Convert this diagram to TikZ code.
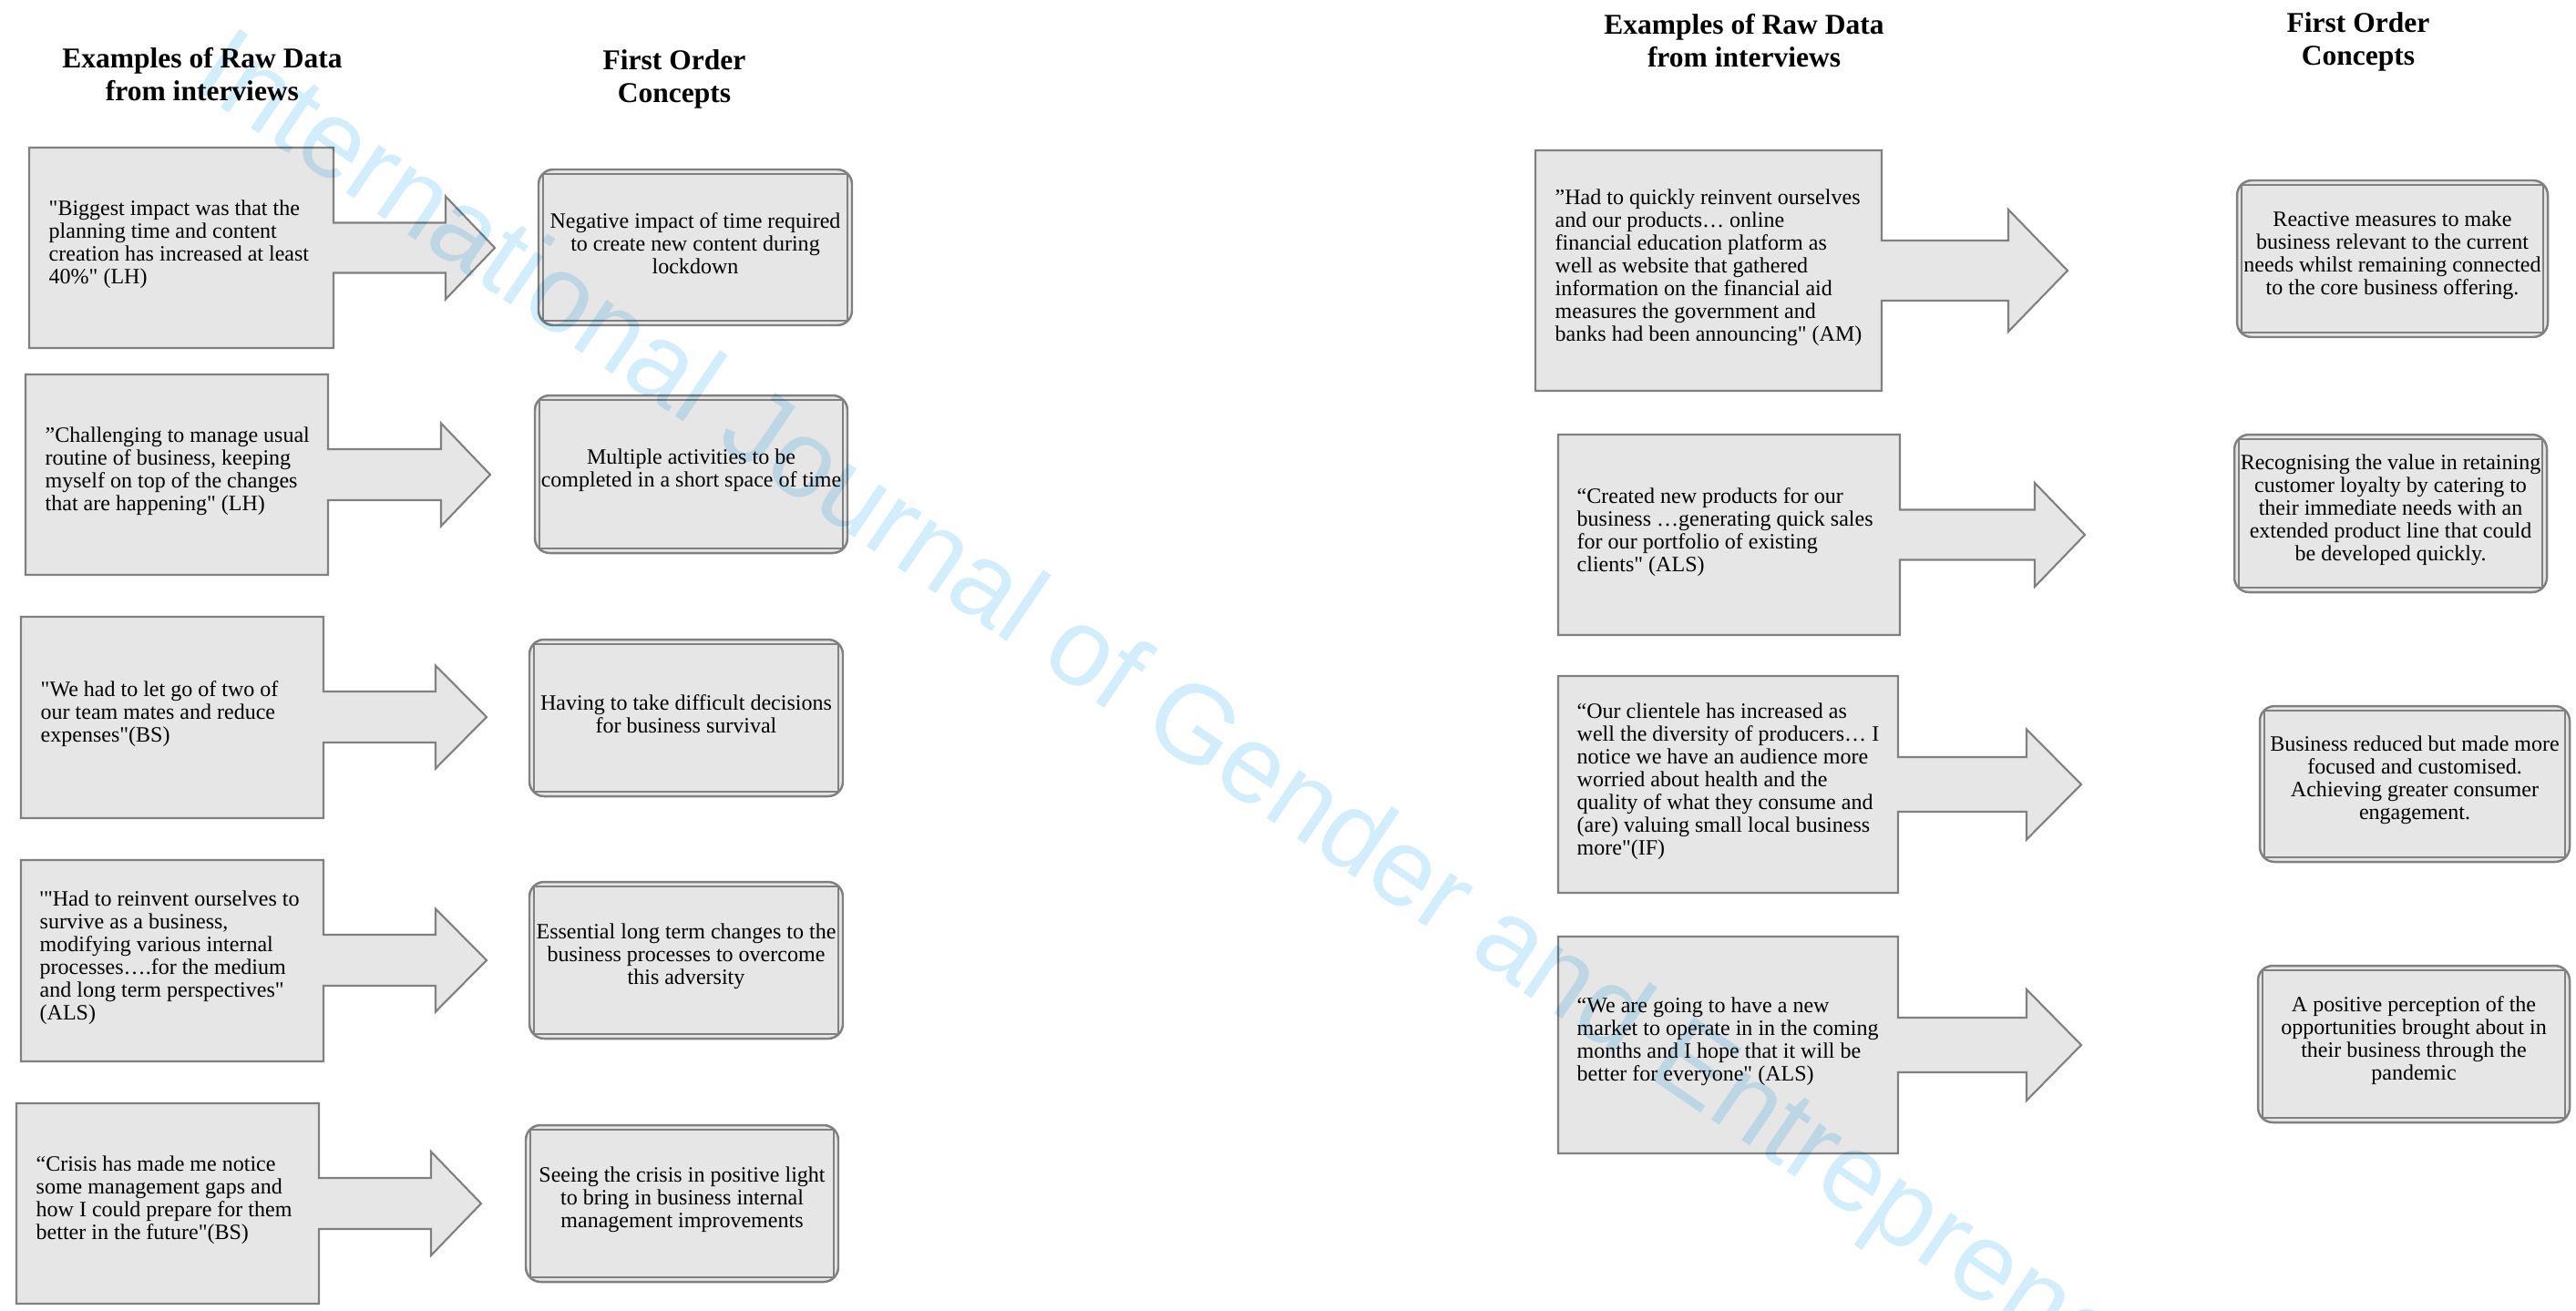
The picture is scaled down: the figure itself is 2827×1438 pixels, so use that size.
\documentclass[tikz,border=0pt]{standalone}
\usepackage{fontspec}
% keep straight quotes as typed
\setmainfont{Liberation Serif}[Ligatures=TeXOff]
\newfontfamily\wmfont{Liberation Sans}

\definecolor{boxfill}{RGB}{230,230,230}
\definecolor{boxline}{RGB}{128,128,128}
\definecolor{wmblue}{RGB}{210,238,252}

\tikzset{
  quote/.style={anchor=west, align=left, inner sep=0pt,
    font=\fontsize{6.83}{7.11}\selectfont},
  concept/.style={align=center, inner sep=0pt,
    font=\fontsize{6.83}{7.11}\selectfont},
  heading/.style={align=center, inner sep=0pt,
    font=\fontsize{8.96}{10.24}\selectfont\bfseries},
  calloutshape/.style={draw=boxline, fill=boxfill, line width=0.6pt, line join=miter},
  conceptouter/.style={draw=boxline, fill=boxfill, line width=0.7pt, rounded corners=4.6pt},
  conceptinner/.style={draw=boxline, line width=0.45pt},
  watermark/.style={inner sep=0pt, text=wmblue, font=\wmfont\fontsize{34.3}{40}\selectfont},
}

% quote box with a block arrow on its right side
% #1 left, #2 top, #3 right, #4 bottom, #5 arrow-head base x, #6 tip x,
% #7 arrow centre y, #8 half shaft height, #9 half head height
\newcommand{\quotearrow}[9]{%
  \draw[calloutshape] (#1,#2) -- (#3,#2) -- (#3,#7-#8) -- (#5,#7-#8)
    -- (#5,#7-#9) -- (#6,#7) -- (#5,#7+#9) -- (#5,#7+#8) -- (#3,#7+#8)
    -- (#3,#4) -- (#1,#4) -- cycle;}

% concept box: rounded frame with an inner rule
% #1 node name, #2 left, #3 top, #4 right, #5 bottom, #6 text
\newcommand{\conceptbox}[6]{%
  \draw[conceptouter] (#2,#3) rectangle (#4,#5);
  \draw[conceptinner] (#2+5,#3+5) rectangle (#4-5,#5-5);
  \node[concept] (#1) at ({(#2+#4)/2},{(#3+#5)/2-4}) {#6};}

\begin{document}
\begin{tikzpicture}[x=0.01cm, y=-0.01cm]
\useasboundingbox (0,0) rectangle (2827,1438);
\clip (0,0) rectangle (2827,1438);
\fill[white] (0,0) rectangle (2827,1438);

% ---------- headings ----------
\node[heading] (hl1) at (222,82) {Examples of Raw Data\\from interviews};
\node[heading] (hl2) at (740,87) {First Order\\Concepts};
\node[heading] (hr1) at (1914,45) {Examples of Raw Data\\from interviews};
\node[heading] (hr2) at (2588,46) {First Order\\Concepts};

% ---------- left column: quotes ----------
\quotearrow{32}{162}{366}{382}{489}{543}{272}{27.5}{56.5}
\node[quote] (q1) at (53,268) {"Biggest impact was that the\\planning time and content\\creation has increased at least\\40\%" (LH)};

\quotearrow{28}{411}{360}{631}{484}{538}{521}{28}{56.5}
\node[quote] (q2) at (49,517) {”Challenging to manage usual\\routine of business, keeping\\myself on top of the changes\\that are happening" (LH)};

\quotearrow{23}{677}{355}{898}{478}{534}{787}{28}{56.5}
\node[quote] (q3) at (44,784) {"We had to let go of two of\\our team mates and reduce\\expenses"(BS)};

\quotearrow{23}{944}{355}{1165}{478}{534}{1054}{28}{56.5}
\node[quote] (q4) at (43,1051) {'"Had to reinvent ourselves to\\survive as a business,\\modifying various internal\\processes….for the medium\\and long term perspectives"\\(ALS)};

\quotearrow{18}{1211}{350}{1431}{473}{528}{1321}{28}{57}
\node[quote] (q5) at (39,1317) {“Crisis has made me notice\\some management gaps and\\how I could prepare for them\\better in the future"(BS)};

% ---------- left column: first order concepts ----------
\conceptbox{c1}{591}{186}{935}{357}{Negative impact of time required\\to create new content during\\lockdown}
\conceptbox{c2}{587}{434}{930}{607}{Multiple activities to be\\completed in a short space of time}
\conceptbox{c3}{581}{702}{925}{874}{Having to take difficult decisions\\for business survival}
\conceptbox{c4}{581}{968}{925}{1140}{Essential long term changes to the\\business processes to overcome\\this adversity}
\conceptbox{c5}{577}{1235}{920}{1407}{Seeing the crisis in positive light\\to bring in business internal\\management improvements}

% ---------- right column: quotes ----------
\quotearrow{1685}{165}{2065}{429}{2204}{2269}{297}{33}{67}
\node[quote] (q6) at (1706,294) {”Had to quickly reinvent ourselves\\and our products… online\\financial education platform as\\well as website that gathered\\information on the financial aid\\measures the government and\\banks had been announcing" (AM)};

\quotearrow{1710}{477}{2085}{697}{2233}{2288}{587}{27.5}{57}
\node[quote] (q7) at (1730,584) {“Created new products for our\\business …generating quick sales\\for our portfolio of existing\\clients" (ALS)};

\quotearrow{1710}{742}{2083}{980}{2224}{2284}{861}{30}{60.5}
\node[quote] (q8) at (1730,858) {“Our clientele has increased as\\well the diversity of producers… I\\notice we have an audience more\\worried about health and the\\quality of what they consume and\\(are) valuing small local business\\more"(IF)};

\quotearrow{1710}{1028}{2083}{1266}{2224}{2284}{1147}{30}{61}
\node[quote] (q9) at (1730,1143) {“We are going to have a new\\market to operate in in the coming\\months and I hope that it will be\\better for everyone" (ALS)};

% ---------- right column: first order concepts ----------
\conceptbox{c6}{2455}{198}{2796}{370}{Reactive measures to make\\business relevant to the current\\needs whilst remaining connected\\to the core business offering.}
\conceptbox{c7}{2452}{477}{2795}{650}{Recognising the value in retaining\\customer loyalty by catering to\\their immediate needs with an\\extended product line that could\\be developed quickly.}
\conceptbox{c8}{2480}{775}{2820}{946}{Business reduced but made more\\focused and customised.\\Achieving greater consumer\\engagement.}
\conceptbox{c9}{2478}{1060}{2820}{1232}{A positive perception of the\\opportunities brought about in\\their business through the\\pandemic}

% ---------- journal watermark ----------
\begin{scope}[blend mode=multiply]
\node[watermark, rotate=-34.2, anchor=base west] (wm) at (207,94)
  {International Journal of Gender and Entrepreneurship};
\end{scope}
\end{tikzpicture}
\end{document}
